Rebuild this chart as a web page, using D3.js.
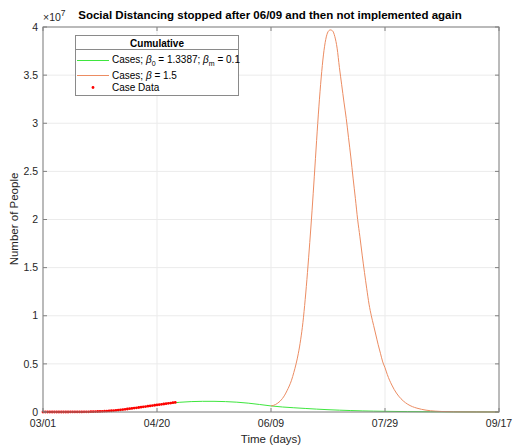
<!DOCTYPE html>
<html>
<head>
<meta charset="utf-8">
<script src="https://cdn.jsdelivr.net/npm/d3@7"></script>
<style>
  body { margin: 0; background: #fff; }
  svg { display: block; font-family: "Liberation Sans", Arial, sans-serif; }
</style>
</head>
<body>
<svg id="chart" width="513" height="446"></svg>
<script>
// x tick labels (days since 03/01, one tick every 50 days)
var tickDays = [0, 50, 100, 150, 200];
var tickLabels = ["03/01", "04/20", "06/09", "07/29", "09/17"];
var yTicks = [0, 0.5e7, 1e7, 1.5e7, 2e7, 2.5e7, 3e7, 3.5e7, 4e7];

// Cases; beta0 = 1.3387; betam = 0.1 (green)
var greenDays = [0, 5, 10, 15, 20, 25, 30, 35, 40, 45, 50, 55, 60, 65, 70, 75, 80, 85, 90, 95, 100,
  105, 110, 115, 120, 125, 130, 135, 140, 145, 150, 160, 170, 180, 190, 200];
var greenCases = [0, 200, 1000, 4000, 12000, 45000, 120000, 240000, 400000, 570000, 740000, 900000,
  1010000, 1080000, 1110000, 1110000, 1080000, 1020000, 920000, 780000, 630000,
  520000, 440000, 370000, 300000, 240000, 190000, 150000, 115000, 90000, 70000,
  42000, 25000, 15000, 9000, 5000];

// Cases; beta = 1.5 (orange), after social distancing stops on 06/09
var orangeDays = [100, 101, 102, 103, 104, 105, 106, 107, 108, 109, 110, 111, 112, 113, 114, 115,
  116, 117, 118, 119, 120, 121, 122, 123, 124, 125, 126, 127, 128, 129, 130, 131, 132, 133, 134,
  135, 136, 137, 138, 139, 140, 141, 142, 143, 144, 145, 146, 147, 148, 149, 150, 151, 152, 153,
  154, 155, 156, 157, 158, 159, 160, 162, 164, 166, 168, 170, 172, 175, 180, 185, 190, 195, 200];
var orangeCases = [630000, 680000, 780000, 930000, 1130000, 1400000, 1750000, 2200000, 2700000,
  3300000, 4100000, 5000000, 6100000, 7500000, 9300000, 11700000, 14500000, 17600000, 20900000,
  24500000, 28200000, 31700000, 34700000, 37100000, 38700000, 39500000, 39700000, 39600000,
  39000000, 37800000, 35800000, 34000000, 32200000, 30500000, 28500000, 26500000, 24300000,
  22200000, 20000000, 18200000, 16300000, 14500000, 12800000, 11200000, 10000000, 9000000,
  8000000, 7000000, 6100000, 5200000, 4600000, 3900000, 3300000, 2800000, 2350000, 1970000,
  1650000, 1380000, 1150000, 960000, 800000, 560000, 400000, 280000, 190000, 130000, 90000,
  50000, 20000, 10000, 5000, 3000, 2000];

// Case Data (red dots), one per day from 03/01
var caseData = [0, 0, 0, 0, 100, 200, 300, 500, 700, 1000,
  1400, 2000, 2800, 3800, 5000, 6600, 8600, 11000, 14000, 18000,
  23000, 29000, 36000, 44000, 53000, 63000, 74000, 86000, 99000, 113000,
  130000, 150000, 172000, 196000, 222000, 250000, 280000, 310000, 341000, 372000,
  404000, 436000, 469000, 502000, 535000, 568000, 601000, 634000, 667000, 700000,
  733000, 766000, 799000, 832000, 865000, 898000, 931000, 964000, 997000];

var svg = d3.select("#chart"),
  margin = {left: 43, right: 499, top: 27, bottom: 412},
  axisColor = "#808080",
  textColor = "#262626",
  greenColor = "#3ee63e",
  orangeColor = "#ec8c62",
  x = d3.scaleLinear().domain([0, 200]).range([margin.left, margin.right]),
  y = d3.scaleLinear().domain([0, 4e7]).range([margin.bottom, margin.top]),
  line = d3.line()
    .x(function(d) { return x(d[0]); })
    .y(function(d) { return y(d[1]); })
    .curve(d3.curveMonotoneX);

// grid
svg.append("g")
  .selectAll("line.gx")
  .data(tickDays)
  .enter().append("line")
    .attr("x1", function(d) { return x(d); })
    .attr("x2", function(d) { return x(d); })
    .attr("y1", margin.top)
    .attr("y2", margin.bottom)
    .attr("stroke", "#ebebeb");

svg.append("g")
  .selectAll("line.gy")
  .data(yTicks)
  .enter().append("line")
    .attr("x1", margin.left)
    .attr("x2", margin.right)
    .attr("y1", function(d) { return y(d); })
    .attr("y2", function(d) { return y(d); })
    .attr("stroke", "#ebebeb");

// series
svg.append("path")
  .datum(greenDays.map(function(d, i) { return [d, greenCases[i]]; }))
  .attr("d", line)
  .attr("fill", "none")
  .attr("stroke", greenColor)
  .attr("stroke-width", 1);

svg.append("path")
  .datum(orangeDays.map(function(d, i) { return [d, orangeCases[i]]; }))
  .attr("d", line)
  .attr("fill", "none")
  .attr("stroke", orangeColor)
  .attr("stroke-width", 1);

svg.append("g")
  .selectAll("circle")
  .data(caseData)
  .enter().append("circle")
    .attr("cx", function(d, i) { return x(i); })
    .attr("cy", function(d) { return y(d); })
    .attr("r", 1.4)
    .attr("fill", "#ff0000");

// axes box and ticks (inward, on all four sides)
svg.append("rect")
  .attr("x", margin.left)
  .attr("y", margin.top)
  .attr("width", margin.right - margin.left)
  .attr("height", margin.bottom - margin.top)
  .attr("fill", "none")
  .attr("stroke", axisColor);

var xAxis = svg.append("g");
tickDays.forEach(function(d, i) {
  xAxis.append("line")
    .attr("x1", x(d)).attr("x2", x(d))
    .attr("y1", margin.bottom).attr("y2", margin.bottom - 4)
    .attr("stroke", axisColor);
  xAxis.append("line")
    .attr("x1", x(d)).attr("x2", x(d))
    .attr("y1", margin.top).attr("y2", margin.top + 4)
    .attr("stroke", axisColor);
  xAxis.append("text")
    .attr("x", x(d))
    .attr("y", 427)
    .attr("text-anchor", "middle")
    .attr("font-size", 10.5)
    .attr("fill", textColor)
    .text(tickLabels[i]);
});

var yAxis = svg.append("g");
yTicks.forEach(function(d) {
  yAxis.append("line")
    .attr("x1", margin.left).attr("x2", margin.left + 4)
    .attr("y1", y(d)).attr("y2", y(d))
    .attr("stroke", axisColor);
  yAxis.append("line")
    .attr("x1", margin.right).attr("x2", margin.right - 4)
    .attr("y1", y(d)).attr("y2", y(d))
    .attr("stroke", axisColor);
  yAxis.append("text")
    .attr("x", 38)
    .attr("y", y(d))
    .attr("dy", "0.35em")
    .attr("text-anchor", "end")
    .attr("font-size", 10.5)
    .attr("fill", textColor)
    .text(d / 1e7);
});

// exponent
var expo = svg.append("text")
  .attr("x", 43)
  .attr("y", 21)
  .attr("font-size", 10.5)
  .attr("fill", textColor);
expo.append("tspan").text("\u00d710");
expo.append("tspan").attr("dy", -5).attr("font-size", 8.5).text("7");

// labels
svg.append("text")
  .attr("x", 270)
  .attr("y", 19)
  .attr("text-anchor", "middle")
  .attr("font-size", 11.5)
  .attr("font-weight", "bold")
  .attr("fill", "#000")
  .text("Social Distancing stopped after 06/09 and then not implemented again");

svg.append("text")
  .attr("x", 271)
  .attr("y", 443)
  .attr("text-anchor", "middle")
  .attr("font-size", 11.5)
  .attr("fill", textColor)
  .text("Time (days)");

svg.append("text")
  .attr("transform", "translate(18,219) rotate(-90)")
  .attr("text-anchor", "middle")
  .attr("font-size", 11.5)
  .attr("fill", textColor)
  .text("Number of People");

// legend
var legend = svg.append("g");
legend.append("rect")
  .attr("x", 75.5).attr("y", 35.5)
  .attr("width", 163).attr("height", 60)
  .attr("fill", "#fff")
  .attr("stroke", "#8a8a8a");
legend.append("line")
  .attr("x1", 75.5).attr("x2", 238.5)
  .attr("y1", 49.5).attr("y2", 49.5)
  .attr("stroke", "#8a8a8a");
legend.append("text")
  .attr("x", 157).attr("y", 46.5)
  .attr("text-anchor", "middle")
  .attr("font-size", 10)
  .attr("font-weight", "bold")
  .attr("fill", "#000")
  .text("Cumulative");

legend.append("line")
  .attr("x1", 77).attr("x2", 109)
  .attr("y1", 60.5).attr("y2", 60.5)
  .attr("stroke", greenColor);
legend.append("line")
  .attr("x1", 77).attr("x2", 109)
  .attr("y1", 75.5).attr("y2", 75.5)
  .attr("stroke", orangeColor);
legend.append("circle")
  .attr("cx", 93).attr("cy", 87.5)
  .attr("r", 1.4)
  .attr("fill", "#ff0000");

var t1 = legend.append("text")
  .attr("x", 112).attr("y", 62.5)
  .attr("font-size", 10)
  .attr("fill", "#000");
t1.append("tspan").text("Cases; ");
t1.append("tspan").attr("font-style", "italic").text("\u03b2");
t1.append("tspan").attr("dy", 3).attr("font-size", 7).text("0");
t1.append("tspan").attr("dy", -3).text(" = 1.3387; ");
t1.append("tspan").attr("font-style", "italic").text("\u03b2");
t1.append("tspan").attr("dy", 3).attr("font-size", 7).text("m");
t1.append("tspan").attr("dy", -3).text(" = 0.1");

var t2 = legend.append("text")
  .attr("x", 112).attr("y", 79)
  .attr("font-size", 10)
  .attr("fill", "#000");
t2.append("tspan").text("Cases; ");
t2.append("tspan").attr("font-style", "italic").text("\u03b2");
t2.append("tspan").text(" = 1.5");

legend.append("text")
  .attr("x", 112).attr("y", 91)
  .attr("font-size", 10)
  .attr("fill", "#000")
  .text("Case Data");
</script>
</body>
</html>
